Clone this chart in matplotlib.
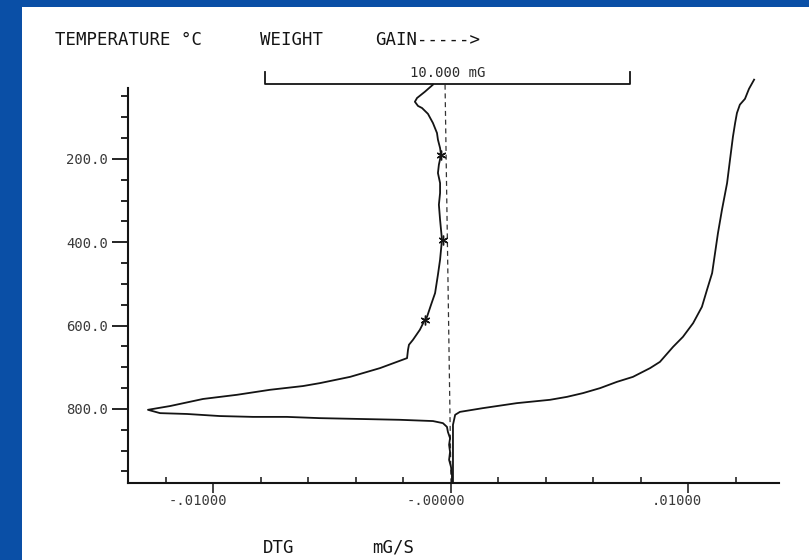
import matplotlib
matplotlib.use("Agg")
import matplotlib.pyplot as plt
import matplotlib.transforms as mtransforms
from matplotlib.patches import Rectangle
from matplotlib.ticker import FixedLocator

# DTG trace: rate of weight change (mG/s) against furnace temperature (deg C)
dtg_rate = [-0.00076, -0.00110, -0.00143, -0.00152, -0.00139, -0.00122, -0.00097,
            -0.00076, -0.00059, -0.00055, -0.00046, -0.00042, -0.00051, -0.00055,
            -0.00046, -0.00046, -0.00051, -0.00046, -0.00042, -0.00038, -0.00042,
            -0.00046, -0.00055, -0.00067, -0.00084, -0.00101, -0.00110, -0.00131,
            -0.00160, -0.00177, -0.00181, -0.00185, -0.00299, -0.00425, -0.00552,
            -0.00623, -0.00762, -0.00901, -0.01044, -0.01183, -0.01276, -0.01225,
            -0.01112, -0.00973, -0.00834, -0.00691, -0.00552, -0.00383, -0.00215,
            -0.00076, -0.00034, -0.00017, -0.00013, -0.00004, -0.00008, -0.00004,
            -0.00008, 0.00000, 0.00004, 0.00004]
dtg_temp = [22, 39, 54, 63, 73, 78, 92,
            114, 138, 154, 174, 190, 214, 234,
            258, 282, 310, 346, 370, 394, 418,
            442, 478, 522, 550, 579, 586, 610,
            634, 646, 658, 678, 702, 723, 738,
            745, 754, 766, 776, 793, 802, 810,
            812, 817, 819, 819, 822, 824, 826,
            829, 834, 843, 855, 870, 886, 903,
            922, 939, 958, 975]

# asterisks placed along the DTG trace
mark_rate = [-0.00042, -0.00034, -0.00109]
mark_temp = [191, 395, 587]

# DTG zero reference (dashed)
zero_rate = [-0.00025, 0.0]
zero_temp = [22, 978]

# TG trace: sample weight (mG) against temperature
tg_weight = [13.40, 13.26, 13.15, 13.01, 12.93, 12.88, 12.82, 12.74, 12.66, 12.52,
             12.41, 12.33, 12.25, 12.11, 11.97, 11.73, 11.45, 11.18, 10.82, 10.55,
             10.08, 9.64, 9.18, 8.71, 8.27, 7.81, 6.90, 5.97, 5.34, 5.21,
             5.15, 5.15, 5.15, 5.15, 5.15]
tg_temp = [10, 32, 56, 70, 90, 114, 147, 202, 258, 322,
           378, 426, 474, 514, 555, 594, 627, 651, 687, 702,
           723, 735, 750, 762, 771, 778, 786, 798, 807, 814,
           838, 874, 910, 946, 975]

# axis ticks
temp_major = [200, 400, 600, 800]
temp_major_labels = ["200.0", "400.0", "600.0", "800.0"]
temp_minor = [50, 100, 150, 250, 300, 350, 450, 500, 550, 650, 700, 750, 850, 900, 950]
rate_major = [-0.01, 0.0, 0.01]
rate_major_labels = ["-.01000", "-.00000", ".01000"]
rate_minor = [-0.012, -0.008, -0.006, -0.004, -0.002, 0.002, 0.004, 0.006, 0.008, 0.012]

# weight scale bar
scale_start_mg = 0.0
scale_span_mg = 10.0

MONO = "DejaVu Sans Mono"
INK = "#141414"
W, H = 809, 560

fig = plt.figure(figsize=(W / 100, H / 100), dpi=100)
fig.patch.set_facecolor("#0a4fa6")
fig.add_artist(Rectangle((22 / W, 0), 1 - 22 / W, 1 - 7 / H, transform=fig.transFigure,
                         facecolor="white", edgecolor="none", zorder=-5))

ax = fig.add_axes([128 / W, 1 - 483 / H, 651 / W, 395 / H])
ax.patch.set_visible(False)
ax.set_xlim(-0.0136, 0.013811)
ax.set_ylim(977.6, 30)

for side in ("top", "right"):
    ax.spines[side].set_visible(False)
for side in ("left", "bottom"):
    ax.spines[side].set_linewidth(1.5)
    ax.spines[side].set_color(INK)

ax.set_yticks(temp_major, temp_major_labels)
ax.yaxis.set_minor_locator(FixedLocator(temp_minor))
ax.tick_params(axis="y", which="major", direction="out", length=11.5, width=1.3,
               pad=3, labelsize=10, labelcolor="#3a3a3a", color=INK)
ax.tick_params(axis="y", which="minor", direction="out", length=5, width=1.3, color=INK)

ax.set_xticks(rate_major, rate_major_labels)
ax.xaxis.set_minor_locator(FixedLocator(rate_minor))
ax.tick_params(axis="x", which="major", direction="out", length=7.2, width=1.1,
               pad=1, labelsize=10, labelcolor="#3a3a3a", color=INK)
ax.tick_params(axis="x", which="minor", direction="in", length=4.5, width=1.1, color=INK)

shift = mtransforms.ScaledTranslation(14 / 100, 0, fig.dpi_scale_trans)
for tick in ax.xaxis.get_major_ticks():
    tick.label1.set_horizontalalignment("right")
    tick.label1.set_transform(tick.label1.get_transform() + shift)
for lab in ax.get_xticklabels() + ax.get_yticklabels():
    lab.set_fontfamily(MONO)

ax.plot(zero_rate, zero_temp, color="#333333", lw=0.9, ls=(0, (4, 3)), clip_on=False)
ax.plot(dtg_rate, dtg_temp, color=INK, lw=1.3, clip_on=False, solid_joinstyle="round")
ax.plot(mark_rate, mark_temp, ls="none", marker=(6, 2, 0), ms=7, mew=1.0, color=INK,
        clip_on=False)

# TG trace on its own weight scale
ax2 = ax.twiny()
ax2.set_xlim(-3.7534, 14.0822)
ax2.xaxis.set_visible(False)
for sp in ax2.spines.values():
    sp.set_visible(False)
ax2.patch.set_visible(False)
ax2.plot(tg_weight, tg_temp, color=INK, lw=1.3, clip_on=False, solid_joinstyle="round")

bar = mtransforms.blended_transform_factory(ax2.transData, ax2.transAxes)
bx0 = scale_start_mg
bx1 = scale_start_mg + scale_span_mg
ax2.plot([bx0, bx0, bx1, bx1], [1.0405, 1.0101, 1.0101, 1.0405], transform=bar,
         color=INK, lw=1.3, clip_on=False)
ax2.text((bx0 + bx1) / 2, 1.037, f"{scale_span_mg:.3f} mG", transform=bar,
         ha="center", va="center", fontsize=10, family=MONO, color="#2a2a2a")

# header and footer captions
hy = 1 - 40 / H
fig.text(55 / W, hy, "TEMPERATURE °C", ha="left", va="center", fontsize=12.5,
         family=MONO, color=INK)
fig.text(260 / W, hy, "WEIGHT", ha="left", va="center", fontsize=12.5,
         family=MONO, color=INK)
fig.text(375 / W, hy, "GAIN----->", ha="left", va="center", fontsize=12.5,
         family=MONO, color=INK)
fy = 1 - 548 / H
fig.text(263 / W, fy, "DTG", ha="left", va="center", fontsize=12.5,
         family=MONO, color=INK)
fig.text(372 / W, fy, "mG/S", ha="left", va="center", fontsize=12.5,
         family=MONO, color=INK)

fig.savefig("out.png", dpi=100, facecolor=fig.get_facecolor())
